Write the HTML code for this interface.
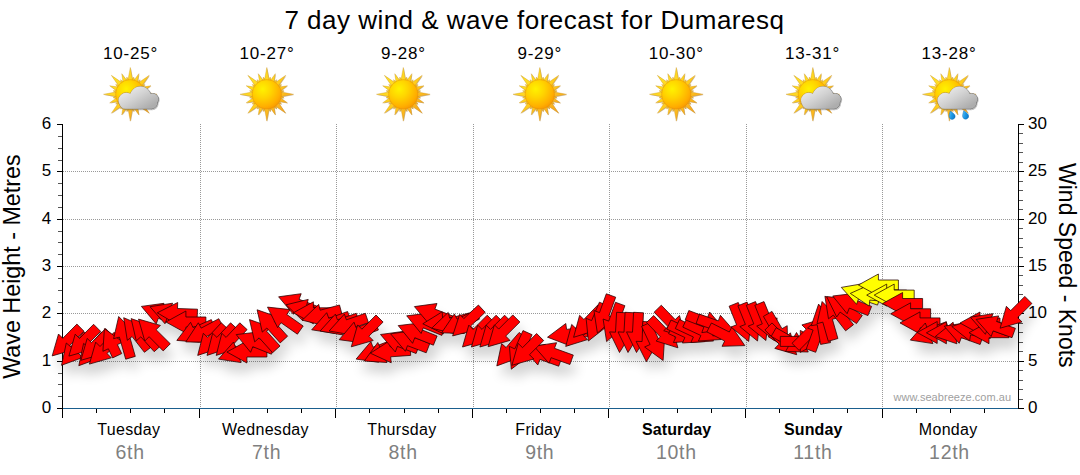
<!DOCTYPE html>
<html><head><meta charset="utf-8"><title>7 day wind &amp; wave forecast for Dumaresq</title>
<style>html,body{margin:0;padding:0;background:#fff;}body{width:1080px;height:475px;overflow:hidden;font-family:"Liberation Sans",sans-serif;}svg{display:block}text{font-family:"Liberation Sans",sans-serif;}</style>
</head><body>
<svg width="1080" height="475" viewBox="0 0 1080 475">
<defs>
<filter id="shb" x="-5%" y="-50%" width="110%" height="200%"><feGaussianBlur stdDeviation="6"/></filter>
<radialGradient id="gSun" cx="0.36" cy="0.32" r="0.75"><stop offset="0" stop-color="#fff200"/><stop offset="0.4" stop-color="#ffd400"/><stop offset="0.8" stop-color="#ffae00"/><stop offset="1" stop-color="#f89600"/></radialGradient>
<linearGradient id="gRay" gradientUnits="userSpaceOnUse" x1="-20" y1="-20" x2="20" y2="20"><stop offset="0" stop-color="#ffe62a"/><stop offset="0.5" stop-color="#ffcc1c"/><stop offset="1" stop-color="#f6a022"/></linearGradient>
<linearGradient id="gCloud" gradientUnits="userSpaceOnUse" x1="0" y1="-8" x2="14" y2="16"><stop offset="0" stop-color="#ebebeb"/><stop offset="0.45" stop-color="#d2d2d2"/><stop offset="1" stop-color="#adadad"/></linearGradient>
<linearGradient id="gCloudEdge" gradientUnits="userSpaceOnUse" x1="-8" y1="-6" x2="22" y2="16"><stop offset="0" stop-color="#c9922a"/><stop offset="0.35" stop-color="#a8905a"/><stop offset="0.6" stop-color="#8a8a8a"/><stop offset="1" stop-color="#6e6e6e"/></linearGradient>
<linearGradient id="gDrop" x1="0" y1="0" x2="1" y2="1"><stop offset="0" stop-color="#7fd0ff"/><stop offset="0.5" stop-color="#1f9be6"/><stop offset="1" stop-color="#0b6fc0"/></linearGradient>
<g id="sunshape"><path d="M13.50,2.50 L26.80,0.00 L13.50,-2.50Z M12.95,4.10 L17.26,3.43 L13.53,1.16Z M11.63,7.20 L20.60,8.53 L13.31,3.13Z M10.39,8.75 L14.63,9.78 L12.06,6.25Z M7.78,11.31 L18.95,18.95 L11.31,7.78Z M6.25,12.06 L9.78,14.63 L8.75,10.39Z M3.13,13.31 L8.53,20.60 L7.20,11.63Z M1.16,13.53 L3.43,17.26 L4.10,12.95Z M-2.50,13.50 L0.00,26.80 L2.50,13.50Z M-4.10,12.95 L-3.43,17.26 L-1.16,13.53Z M-7.20,11.63 L-8.53,20.60 L-3.13,13.31Z M-8.75,10.39 L-9.78,14.63 L-6.25,12.06Z M-11.31,7.78 L-18.95,18.95 L-7.78,11.31Z M-12.06,6.25 L-14.63,9.78 L-10.39,8.75Z M-13.31,3.13 L-20.60,8.53 L-11.63,7.20Z M-13.53,1.16 L-17.26,3.43 L-12.95,4.10Z M-13.50,-2.50 L-26.80,0.00 L-13.50,2.50Z M-12.95,-4.10 L-17.26,-3.43 L-13.53,-1.16Z M-11.63,-7.20 L-20.60,-8.53 L-13.31,-3.13Z M-10.39,-8.75 L-14.63,-9.78 L-12.06,-6.25Z M-7.78,-11.31 L-18.95,-18.95 L-11.31,-7.78Z M-6.25,-12.06 L-9.78,-14.63 L-8.75,-10.39Z M-3.13,-13.31 L-8.53,-20.60 L-7.20,-11.63Z M-1.16,-13.53 L-3.43,-17.26 L-4.10,-12.95Z M2.50,-13.50 L-0.00,-26.80 L-2.50,-13.50Z M4.10,-12.95 L3.43,-17.26 L1.16,-13.53Z M7.20,-11.63 L8.53,-20.60 L3.13,-13.31Z M8.75,-10.39 L9.78,-14.63 L6.25,-12.06Z M11.31,-7.78 L18.95,-18.95 L7.78,-11.31Z M12.06,-6.25 L14.63,-9.78 L10.39,-8.75Z M13.31,-3.13 L20.60,-8.53 L11.63,-7.20Z M13.53,-1.16 L17.26,-3.43 L12.95,-4.10Z" fill="#7a4a00" opacity="0.35" transform="translate(0.6,0.6)"/>
<path d="M13.50,2.50 L26.80,0.00 L13.50,-2.50Z M12.95,4.10 L17.26,3.43 L13.53,1.16Z M11.63,7.20 L20.60,8.53 L13.31,3.13Z M10.39,8.75 L14.63,9.78 L12.06,6.25Z M7.78,11.31 L18.95,18.95 L11.31,7.78Z M6.25,12.06 L9.78,14.63 L8.75,10.39Z M3.13,13.31 L8.53,20.60 L7.20,11.63Z M1.16,13.53 L3.43,17.26 L4.10,12.95Z M-2.50,13.50 L0.00,26.80 L2.50,13.50Z M-4.10,12.95 L-3.43,17.26 L-1.16,13.53Z M-7.20,11.63 L-8.53,20.60 L-3.13,13.31Z M-8.75,10.39 L-9.78,14.63 L-6.25,12.06Z M-11.31,7.78 L-18.95,18.95 L-7.78,11.31Z M-12.06,6.25 L-14.63,9.78 L-10.39,8.75Z M-13.31,3.13 L-20.60,8.53 L-11.63,7.20Z M-13.53,1.16 L-17.26,3.43 L-12.95,4.10Z M-13.50,-2.50 L-26.80,0.00 L-13.50,2.50Z M-12.95,-4.10 L-17.26,-3.43 L-13.53,-1.16Z M-11.63,-7.20 L-20.60,-8.53 L-13.31,-3.13Z M-10.39,-8.75 L-14.63,-9.78 L-12.06,-6.25Z M-7.78,-11.31 L-18.95,-18.95 L-11.31,-7.78Z M-6.25,-12.06 L-9.78,-14.63 L-8.75,-10.39Z M-3.13,-13.31 L-8.53,-20.60 L-7.20,-11.63Z M-1.16,-13.53 L-3.43,-17.26 L-4.10,-12.95Z M2.50,-13.50 L-0.00,-26.80 L-2.50,-13.50Z M4.10,-12.95 L3.43,-17.26 L1.16,-13.53Z M7.20,-11.63 L8.53,-20.60 L3.13,-13.31Z M8.75,-10.39 L9.78,-14.63 L6.25,-12.06Z M11.31,-7.78 L18.95,-18.95 L7.78,-11.31Z M12.06,-6.25 L14.63,-9.78 L10.39,-8.75Z M13.31,-3.13 L20.60,-8.53 L11.63,-7.20Z M13.53,-1.16 L17.26,-3.43 L12.95,-4.10Z" fill="url(#gRay)" stroke="#c8901c" stroke-width="0.5" stroke-opacity="0.7"/>
<circle cx="0" cy="0" r="14.7" fill="url(#gSun)" stroke="#e08a10" stroke-width="0.5" stroke-opacity="0.8"/></g>
<g id="cloudshape"><path d="M-0.60,2.90 a10.7,10.7 0 1,1 21.4,0 a10.7,10.7 0 1,1 -21.4,0Z M-11.80,6.20 a7.8,7.8 0 1,1 15.6,0 a7.8,7.8 0 1,1 -15.6,0Z M-10.90,8.20 a6.3,6.3 0 1,1 12.6,0 a6.3,6.3 0 1,1 -12.6,0Z M16.70,4.90 a5.7,5.7 0 1,1 11.4,0 a5.7,5.7 0 1,1 -11.4,0Z M15.40,8.60 a5.8,5.8 0 1,1 11.6,0 a5.8,5.8 0 1,1 -11.6,0Z M-4.3,3 H21.5 V14.4 H-4.3Z" fill="#555" opacity="0.35" transform="translate(0.7,0.9)" stroke="#555" stroke-width="1.2"/><path d="M-0.60,2.90 a10.7,10.7 0 1,1 21.4,0 a10.7,10.7 0 1,1 -21.4,0Z M-11.80,6.20 a7.8,7.8 0 1,1 15.6,0 a7.8,7.8 0 1,1 -15.6,0Z M-10.90,8.20 a6.3,6.3 0 1,1 12.6,0 a6.3,6.3 0 1,1 -12.6,0Z M16.70,4.90 a5.7,5.7 0 1,1 11.4,0 a5.7,5.7 0 1,1 -11.4,0Z M15.40,8.60 a5.8,5.8 0 1,1 11.6,0 a5.8,5.8 0 1,1 -11.6,0Z M-4.3,3 H21.5 V14.4 H-4.3Z" fill="url(#gCloudEdge)" stroke="url(#gCloudEdge)" stroke-width="1.0" stroke-linejoin="round"/><path d="M-0.60,2.90 a10.7,10.7 0 1,1 21.4,0 a10.7,10.7 0 1,1 -21.4,0Z M-11.80,6.20 a7.8,7.8 0 1,1 15.6,0 a7.8,7.8 0 1,1 -15.6,0Z M-10.90,8.20 a6.3,6.3 0 1,1 12.6,0 a6.3,6.3 0 1,1 -12.6,0Z M16.70,4.90 a5.7,5.7 0 1,1 11.4,0 a5.7,5.7 0 1,1 -11.4,0Z M15.40,8.60 a5.8,5.8 0 1,1 11.6,0 a5.8,5.8 0 1,1 -11.6,0Z M-4.3,3 H21.5 V14.4 H-4.3Z" fill="url(#gCloud)"/></g>
<g id="dropshape"><path d="M0,-4.2 C1.3,-2.2 3,-0.3 3,1.5 A3,3 0 1,1 -3,1.5 C-3,-0.3 -1.3,-2.2 0,-4.2Z" fill="url(#gDrop)" stroke="#0a68b4" stroke-width="0.4" transform="rotate(-20)"/></g>
<symbol id="ic-sun" overflow="visible"><use href="#sunshape"/></symbol>
<symbol id="ic-pc" overflow="visible"><use href="#sunshape"/><use href="#cloudshape"/></symbol>
<symbol id="ic-rain" overflow="visible"><use href="#sunshape"/><use href="#dropshape" x="2.3" y="20.6"/><use href="#dropshape" x="15.8" y="20.4"/><use href="#cloudshape"/></symbol>
</defs>
<text x="534.4" y="29.3" font-size="26" letter-spacing="0.48" text-anchor="middle" fill="#000">7 day wind &amp; wave forecast for Dumaresq</text>
<text x="130.6" y="59" font-size="17" letter-spacing="0.8" text-anchor="middle" fill="#000">10-25°</text>
<text x="267.0" y="59" font-size="17" letter-spacing="0.8" text-anchor="middle" fill="#000">10-27°</text>
<text x="403.4" y="59" font-size="17" letter-spacing="0.8" text-anchor="middle" fill="#000">9-28°</text>
<text x="539.8" y="59" font-size="17" letter-spacing="0.8" text-anchor="middle" fill="#000">9-29°</text>
<text x="676.2" y="59" font-size="17" letter-spacing="0.8" text-anchor="middle" fill="#000">10-30°</text>
<text x="812.6" y="59" font-size="17" letter-spacing="0.8" text-anchor="middle" fill="#000">13-31°</text>
<text x="949.0" y="59" font-size="17" letter-spacing="0.8" text-anchor="middle" fill="#000">13-28°</text>
<line x1="200.5" y1="124" x2="200.5" y2="408" stroke="#999" stroke-width="1" stroke-dasharray="1 1" shape-rendering="crispEdges"/>
<line x1="336.5" y1="124" x2="336.5" y2="408" stroke="#999" stroke-width="1" stroke-dasharray="1 1" shape-rendering="crispEdges"/>
<line x1="473.5" y1="124" x2="473.5" y2="408" stroke="#999" stroke-width="1" stroke-dasharray="1 1" shape-rendering="crispEdges"/>
<line x1="609.5" y1="124" x2="609.5" y2="408" stroke="#999" stroke-width="1" stroke-dasharray="1 1" shape-rendering="crispEdges"/>
<line x1="746.5" y1="124" x2="746.5" y2="408" stroke="#999" stroke-width="1" stroke-dasharray="1 1" shape-rendering="crispEdges"/>
<line x1="882.5" y1="124" x2="882.5" y2="408" stroke="#999" stroke-width="1" stroke-dasharray="1 1" shape-rendering="crispEdges"/>
<line x1="63" y1="361.5" x2="1018" y2="361.5" stroke="#999" stroke-width="1" stroke-dasharray="1 1" shape-rendering="crispEdges"/>
<line x1="63" y1="313.5" x2="1018" y2="313.5" stroke="#999" stroke-width="1" stroke-dasharray="1 1" shape-rendering="crispEdges"/>
<line x1="63" y1="266.5" x2="1018" y2="266.5" stroke="#999" stroke-width="1" stroke-dasharray="1 1" shape-rendering="crispEdges"/>
<line x1="63" y1="219.5" x2="1018" y2="219.5" stroke="#999" stroke-width="1" stroke-dasharray="1 1" shape-rendering="crispEdges"/>
<line x1="63" y1="171.5" x2="1018" y2="171.5" stroke="#999" stroke-width="1" stroke-dasharray="1 1" shape-rendering="crispEdges"/>
<g shape-rendering="crispEdges" stroke="#000" stroke-width="1">
<line x1="62.5" y1="124" x2="62.5" y2="409"/>
<line x1="1018.5" y1="124" x2="1018.5" y2="409"/>
<line x1="1019" y1="408.5" x2="1024" y2="408.5"/>
<line x1="1019" y1="399.5" x2="1023" y2="399.5" stroke="#555"/>
<line x1="1019" y1="389.5" x2="1023" y2="389.5" stroke="#555"/>
<line x1="1019" y1="380.5" x2="1023" y2="380.5" stroke="#555"/>
<line x1="1019" y1="370.5" x2="1023" y2="370.5" stroke="#555"/>
<line x1="1019" y1="361.5" x2="1024" y2="361.5"/>
<line x1="1019" y1="351.5" x2="1023" y2="351.5" stroke="#555"/>
<line x1="1019" y1="342.5" x2="1023" y2="342.5" stroke="#555"/>
<line x1="1019" y1="332.5" x2="1023" y2="332.5" stroke="#555"/>
<line x1="1019" y1="323.5" x2="1023" y2="323.5" stroke="#555"/>
<line x1="1019" y1="313.5" x2="1024" y2="313.5"/>
<line x1="1019" y1="304.5" x2="1023" y2="304.5" stroke="#555"/>
<line x1="1019" y1="294.5" x2="1023" y2="294.5" stroke="#555"/>
<line x1="1019" y1="285.5" x2="1023" y2="285.5" stroke="#555"/>
<line x1="1019" y1="275.5" x2="1023" y2="275.5" stroke="#555"/>
<line x1="1019" y1="266.5" x2="1024" y2="266.5"/>
<line x1="1019" y1="257.5" x2="1023" y2="257.5" stroke="#555"/>
<line x1="1019" y1="247.5" x2="1023" y2="247.5" stroke="#555"/>
<line x1="1019" y1="238.5" x2="1023" y2="238.5" stroke="#555"/>
<line x1="1019" y1="228.5" x2="1023" y2="228.5" stroke="#555"/>
<line x1="1019" y1="219.5" x2="1024" y2="219.5"/>
<line x1="1019" y1="209.5" x2="1023" y2="209.5" stroke="#555"/>
<line x1="1019" y1="200.5" x2="1023" y2="200.5" stroke="#555"/>
<line x1="1019" y1="190.5" x2="1023" y2="190.5" stroke="#555"/>
<line x1="1019" y1="181.5" x2="1023" y2="181.5" stroke="#555"/>
<line x1="1019" y1="171.5" x2="1024" y2="171.5"/>
<line x1="1019" y1="162.5" x2="1023" y2="162.5" stroke="#555"/>
<line x1="1019" y1="152.5" x2="1023" y2="152.5" stroke="#555"/>
<line x1="1019" y1="143.5" x2="1023" y2="143.5" stroke="#555"/>
<line x1="1019" y1="133.5" x2="1023" y2="133.5" stroke="#555"/>
<line x1="1019" y1="124.5" x2="1024" y2="124.5"/>
<line x1="57" y1="408.5" x2="62" y2="408.5"/>
<line x1="58" y1="396.5" x2="62" y2="396.5" stroke="#555"/>
<line x1="58" y1="384.5" x2="62" y2="384.5" stroke="#555"/>
<line x1="58" y1="373.5" x2="62" y2="373.5" stroke="#555"/>
<line x1="57" y1="361.5" x2="62" y2="361.5"/>
<line x1="58" y1="349.5" x2="62" y2="349.5" stroke="#555"/>
<line x1="58" y1="337.5" x2="62" y2="337.5" stroke="#555"/>
<line x1="58" y1="325.5" x2="62" y2="325.5" stroke="#555"/>
<line x1="57" y1="313.5" x2="62" y2="313.5"/>
<line x1="58" y1="302.5" x2="62" y2="302.5" stroke="#555"/>
<line x1="58" y1="290.5" x2="62" y2="290.5" stroke="#555"/>
<line x1="58" y1="278.5" x2="62" y2="278.5" stroke="#555"/>
<line x1="57" y1="266.5" x2="62" y2="266.5"/>
<line x1="58" y1="254.5" x2="62" y2="254.5" stroke="#555"/>
<line x1="58" y1="242.5" x2="62" y2="242.5" stroke="#555"/>
<line x1="58" y1="231.5" x2="62" y2="231.5" stroke="#555"/>
<line x1="57" y1="219.5" x2="62" y2="219.5"/>
<line x1="58" y1="207.5" x2="62" y2="207.5" stroke="#555"/>
<line x1="58" y1="195.5" x2="62" y2="195.5" stroke="#555"/>
<line x1="58" y1="183.5" x2="62" y2="183.5" stroke="#555"/>
<line x1="57" y1="171.5" x2="62" y2="171.5"/>
<line x1="58" y1="160.5" x2="62" y2="160.5" stroke="#555"/>
<line x1="58" y1="148.5" x2="62" y2="148.5" stroke="#555"/>
<line x1="58" y1="136.5" x2="62" y2="136.5" stroke="#555"/>
<line x1="57" y1="124.5" x2="62" y2="124.5"/>
<line x1="62.5" y1="409" x2="62.5" y2="418"/>
<line x1="96.5" y1="409" x2="96.5" y2="413"/>
<line x1="130.5" y1="409" x2="130.5" y2="413"/>
<line x1="164.5" y1="409" x2="164.5" y2="413"/>
<line x1="199.5" y1="409" x2="199.5" y2="418"/>
<line x1="233.5" y1="409" x2="233.5" y2="413"/>
<line x1="267.5" y1="409" x2="267.5" y2="413"/>
<line x1="301.5" y1="409" x2="301.5" y2="413"/>
<line x1="335.5" y1="409" x2="335.5" y2="418"/>
<line x1="369.5" y1="409" x2="369.5" y2="413"/>
<line x1="404.5" y1="409" x2="404.5" y2="413"/>
<line x1="438.5" y1="409" x2="438.5" y2="413"/>
<line x1="472.5" y1="409" x2="472.5" y2="418"/>
<line x1="506.5" y1="409" x2="506.5" y2="413"/>
<line x1="540.5" y1="409" x2="540.5" y2="413"/>
<line x1="574.5" y1="409" x2="574.5" y2="413"/>
<line x1="608.5" y1="409" x2="608.5" y2="418"/>
<line x1="643.5" y1="409" x2="643.5" y2="413"/>
<line x1="677.5" y1="409" x2="677.5" y2="413"/>
<line x1="711.5" y1="409" x2="711.5" y2="413"/>
<line x1="745.5" y1="409" x2="745.5" y2="418"/>
<line x1="779.5" y1="409" x2="779.5" y2="413"/>
<line x1="813.5" y1="409" x2="813.5" y2="413"/>
<line x1="847.5" y1="409" x2="847.5" y2="413"/>
<line x1="882.5" y1="409" x2="882.5" y2="418"/>
<line x1="916.5" y1="409" x2="916.5" y2="413"/>
<line x1="950.5" y1="409" x2="950.5" y2="413"/>
<line x1="984.5" y1="409" x2="984.5" y2="413"/>
</g>
<line x1="63" y1="408.5" x2="1018" y2="408.5" stroke="#1a5f8e" stroke-width="1" shape-rendering="crispEdges"/>
<text x="51.3" y="412.9" font-size="17" text-anchor="end" fill="#000">0</text>
<text x="1028" y="412.9" font-size="17" text-anchor="start" fill="#000">0</text>
<text x="51.3" y="365.6" font-size="17" text-anchor="end" fill="#000">1</text>
<text x="1028" y="365.6" font-size="17" text-anchor="start" fill="#000">5</text>
<text x="51.3" y="318.2" font-size="17" text-anchor="end" fill="#000">2</text>
<text x="1028" y="318.2" font-size="17" text-anchor="start" fill="#000">10</text>
<text x="51.3" y="270.9" font-size="17" text-anchor="end" fill="#000">3</text>
<text x="1028" y="270.9" font-size="17" text-anchor="start" fill="#000">15</text>
<text x="51.3" y="223.6" font-size="17" text-anchor="end" fill="#000">4</text>
<text x="1028" y="223.6" font-size="17" text-anchor="start" fill="#000">20</text>
<text x="51.3" y="176.2" font-size="17" text-anchor="end" fill="#000">5</text>
<text x="1028" y="176.2" font-size="17" text-anchor="start" fill="#000">25</text>
<text x="51.3" y="128.9" font-size="17" text-anchor="end" fill="#000">6</text>
<text x="1028" y="128.9" font-size="17" text-anchor="start" fill="#000">30</text>
<path d="M52.2,355.9 L74.1,349.6 L69.8,345.3 L84.0,331.2 L76.9,324.1 L62.8,338.3 L58.5,334.0Z M61.5,365.3 L82.9,357.4 L78.4,353.5 L91.5,338.4 L83.9,331.8 L70.8,346.9 L66.3,343.0Z M68.9,356.1 L90.8,349.8 L86.5,345.5 L100.7,331.4 L93.6,324.3 L79.5,338.5 L75.2,334.2Z M78.8,365.7 L100.2,357.8 L95.7,353.9 L108.8,338.8 L101.2,332.2 L88.1,347.3 L83.6,343.4Z M80.9,360.3 L102.8,354.0 L98.5,349.7 L112.7,335.6 L105.6,328.5 L91.5,342.7 L87.2,338.4Z M89.4,364.1 L111.3,357.8 L107.0,353.5 L121.2,339.4 L114.1,332.3 L100.0,346.5 L95.7,342.2Z M104.4,328.6 L102.9,351.3 L108.4,348.8 L112.6,357.9 L121.7,353.6 L117.4,344.6 L122.9,342.1Z M118.7,316.5 L113.6,338.7 L119.4,337.1 L125.7,359.2 L135.3,356.4 L129.0,334.3 L134.8,332.7Z M123.7,317.7 L127.3,340.3 L132.1,336.6 L144.4,352.3 L152.3,346.2 L139.9,330.4 L144.7,326.7Z M131.1,318.6 L136.3,340.9 L140.8,336.8 L154.2,351.7 L161.6,345.0 L148.2,330.2 L152.7,326.1Z M138.5,319.1 L144.8,341.0 L149.1,336.7 L163.2,350.9 L170.3,343.8 L156.1,329.7 L160.4,325.4Z M141.4,306.4 L156.2,323.9 L158.3,318.3 L177.0,325.4 L180.6,316.1 L161.9,308.9 L164.0,303.3Z M150.0,306.7 L165.0,323.8 L167.1,318.2 L185.9,325.0 L189.3,315.6 L170.5,308.8 L172.6,303.2Z M157.3,312.8 L176.9,324.5 L177.1,318.5 L197.1,319.2 L197.5,309.2 L177.5,308.5 L177.7,302.5Z M165.9,322.0 L185.9,333.0 L185.9,327.0 L205.9,327.0 L205.9,317.0 L185.9,317.0 L185.9,311.0Z M176.8,340.4 L199.6,342.3 L197.1,336.9 L215.4,328.7 L211.3,319.6 L193.1,327.7 L190.6,322.3Z M185.8,341.9 L208.7,342.2 L205.8,336.9 L223.5,327.5 L218.8,318.7 L201.2,328.1 L198.3,322.8Z M197.7,355.4 L219.3,348.3 L215.0,344.2 L228.6,329.6 L221.3,322.8 L207.6,337.4 L203.3,333.3Z M207.0,355.4 L228.6,348.3 L224.3,344.2 L237.9,329.6 L230.6,322.8 L216.9,337.4 L212.6,333.3Z M216.2,355.4 L237.8,348.3 L233.5,344.2 L247.1,329.6 L239.8,322.8 L226.1,337.4 L221.8,333.3Z M218.5,359.1 L241.1,362.6 L239.0,357.0 L257.8,350.2 L254.4,340.8 L235.6,347.6 L233.5,342.0Z M226.9,352.0 L246.9,363.0 L246.9,357.0 L266.9,357.0 L266.9,347.0 L246.9,347.0 L246.9,341.0Z M236.2,334.6 L250.6,352.3 L252.8,346.7 L271.4,354.2 L275.1,345.0 L256.6,337.5 L258.8,331.9Z M249.5,319.6 L254.7,341.9 L259.2,337.8 L272.6,352.7 L280.0,346.0 L266.6,331.2 L271.1,327.1Z M257.1,309.8 L262.3,332.1 L266.8,328.0 L280.2,342.9 L287.6,336.2 L274.2,321.4 L278.7,317.3Z M267.5,307.1 L277.6,327.6 L281.0,322.7 L297.4,334.2 L303.2,326.0 L286.8,314.5 L290.2,309.6Z M278.6,296.8 L293.4,314.3 L295.5,308.7 L314.2,315.8 L317.8,306.5 L299.1,299.3 L301.2,293.7Z M286.1,304.8 L302.6,320.6 L304.1,314.8 L323.4,320.0 L326.0,310.3 L306.7,305.2 L308.2,299.4Z M293.4,312.8 L313.4,323.8 L313.4,317.8 L333.4,317.8 L333.4,307.8 L313.4,307.8 L313.4,301.8Z M302.2,320.2 L324.3,325.6 L322.8,319.8 L342.1,314.7 L339.5,305.0 L320.2,310.2 L318.7,304.4Z M311.7,329.8 L334.3,333.3 L332.2,327.7 L351.0,320.9 L347.6,311.5 L328.8,318.3 L326.7,312.7Z M320.1,331.0 L342.6,334.9 L340.6,329.2 L359.5,322.7 L356.3,313.3 L337.4,319.8 L335.4,314.1Z M329.1,331.0 L351.6,334.9 L349.6,329.2 L368.5,322.7 L365.3,313.3 L346.4,319.8 L344.4,314.1Z M339.2,339.7 L361.8,342.8 L359.7,337.2 L378.4,330.0 L374.8,320.7 L356.1,327.8 L354.0,322.2Z M351.3,346.8 L373.2,340.5 L368.9,336.2 L383.1,322.1 L376.0,315.0 L361.9,329.2 L357.6,324.9Z M356.1,359.1 L378.7,362.2 L376.6,356.6 L395.3,349.4 L391.7,340.1 L373.0,347.2 L370.9,341.6Z M364.3,361.0 L387.0,362.5 L384.5,357.0 L402.6,348.6 L398.4,339.5 L380.3,348.0 L377.8,342.5Z M370.4,353.2 L391.2,362.8 L390.7,356.8 L410.7,355.4 L410.0,345.4 L390.1,346.8 L389.6,340.8Z M380.5,334.5 L395.3,352.0 L397.4,346.4 L416.1,353.5 L419.7,344.2 L401.0,337.0 L403.1,331.4Z M390.6,333.8 L405.4,351.3 L407.5,345.7 L426.2,352.8 L429.8,343.5 L411.1,336.3 L413.2,330.7Z M398.2,325.6 L412.6,343.3 L414.8,337.7 L433.4,345.2 L437.1,336.0 L418.6,328.5 L420.8,322.9Z M406.7,315.8 L421.1,333.5 L423.3,327.9 L441.9,335.4 L445.6,326.2 L427.1,318.7 L429.3,313.1Z M414.4,306.6 L429.2,324.1 L431.3,318.5 L450.0,325.6 L453.6,316.3 L434.9,309.1 L437.0,303.5Z M422.8,323.8 L443.4,333.8 L443.1,327.8 L463.0,326.7 L462.5,316.8 L442.5,317.8 L442.2,311.8Z M431.7,328.2 L453.8,333.6 L452.3,327.8 L471.6,322.7 L469.0,313.0 L449.7,318.2 L448.2,312.4Z M441.6,332.8 L464.4,333.5 L461.7,328.2 L479.5,319.1 L475.0,310.2 L457.1,319.2 L454.4,313.9Z M452.6,335.9 L474.7,330.3 L470.6,326.0 L485.2,312.3 L478.4,305.0 L463.8,318.6 L459.7,314.3Z M462.5,347.0 L484.4,340.7 L480.1,336.4 L494.3,322.3 L487.2,315.2 L473.1,329.4 L468.8,325.1Z M471.4,347.0 L493.3,340.7 L489.0,336.4 L503.2,322.3 L496.1,315.2 L482.0,329.4 L477.7,325.1Z M479.9,347.0 L501.8,340.7 L497.5,336.4 L511.7,322.3 L504.6,315.2 L490.5,329.4 L486.2,325.1Z M488.1,346.7 L510.0,340.4 L505.7,336.1 L519.9,322.0 L512.8,314.9 L498.7,329.1 L494.4,324.8Z M522.8,347.9 L537.8,365.0 L539.9,359.4 L558.7,366.2 L562.1,356.8 L543.3,350.0 L545.4,344.4Z M534.0,346.2 L549.0,363.3 L551.1,357.7 L569.9,364.5 L573.3,355.1 L554.5,348.3 L556.6,342.7Z M496.8,365.9 L518.2,358.0 L513.7,354.1 L526.8,339.0 L519.2,332.4 L506.1,347.5 L501.6,343.6Z M511.3,369.2 L529.4,355.4 L524.0,352.9 L532.1,334.7 L523.0,330.6 L514.8,348.9 L509.4,346.4Z M511.9,365.3 L533.8,359.0 L529.5,354.7 L543.7,340.6 L536.6,333.5 L522.5,347.7 L518.2,343.4Z M547.5,337.2 L568.8,345.3 L568.0,339.4 L587.8,336.6 L586.4,326.7 L566.6,329.4 L565.8,323.5Z M565.7,346.4 L587.5,339.6 L583.2,335.5 L597.1,321.1 L589.9,314.1 L576.0,328.5 L571.7,324.4Z M573.6,337.3 L595.4,330.5 L591.1,326.4 L605.0,312.0 L597.8,305.0 L583.9,319.4 L579.6,315.3Z M588.4,341.0 L606.3,326.9 L600.8,324.6 L608.6,306.1 L599.4,302.2 L591.6,320.6 L586.1,318.3Z M597.4,333.1 L614.5,318.1 L608.9,316.0 L615.7,297.2 L606.3,293.8 L599.5,312.6 L593.9,310.5Z M606.6,341.6 L623.7,326.6 L618.1,324.5 L624.9,305.7 L615.5,302.3 L608.7,321.1 L603.1,319.0Z M619.5,352.5 L631.5,333.1 L625.5,332.8 L626.5,312.8 L616.6,312.3 L615.5,332.2 L609.5,331.9Z M628.0,352.5 L640.0,333.1 L634.0,332.8 L635.0,312.8 L625.1,312.3 L624.0,332.2 L618.0,331.9Z M636.5,352.5 L648.5,333.1 L642.5,332.8 L643.5,312.8 L633.6,312.3 L632.5,332.2 L626.5,331.9Z M646.4,361.7 L658.1,342.1 L652.1,341.9 L652.8,321.9 L642.8,321.5 L642.1,341.5 L636.1,341.3Z M663.1,360.5 L664.6,337.8 L659.1,340.3 L650.7,322.2 L641.6,326.4 L650.1,344.5 L644.6,347.0Z M677.9,347.8 L671.9,325.8 L667.6,329.9 L653.7,315.5 L646.5,322.5 L660.4,336.9 L656.1,341.0Z M685.5,337.5 L679.5,315.5 L675.2,319.6 L661.3,305.2 L654.1,312.2 L668.0,326.6 L663.7,330.7Z M696.1,341.0 L682.6,322.5 L680.1,328.0 L672.9,324.6 L668.6,333.7 L675.9,337.0 L673.4,342.5Z M705.1,341.5 L691.6,323.0 L689.1,328.5 L671.0,320.0 L666.8,329.1 L684.9,337.5 L682.4,343.0Z M713.6,341.0 L700.1,322.5 L697.6,328.0 L679.5,319.5 L675.3,328.6 L693.4,337.0 L690.9,342.5Z M721.1,339.5 L707.6,321.0 L705.1,326.5 L687.0,318.0 L682.8,327.1 L700.9,335.5 L698.4,341.0Z M724.4,329.5 L709.6,312.0 L707.5,317.6 L688.8,310.5 L685.2,319.8 L703.9,327.0 L701.8,332.6Z M735.4,332.4 L720.4,315.3 L718.3,320.9 L699.5,314.1 L696.1,323.5 L714.9,330.3 L712.8,335.9Z M744.8,345.6 L732.0,326.7 L729.3,332.0 L711.4,323.0 L706.9,331.9 L724.7,341.0 L722.0,346.3Z M748.7,341.4 L751.4,318.8 L745.8,321.0 L738.3,302.5 L729.1,306.2 L736.6,324.8 L731.0,327.0Z M757.5,341.0 L760.2,318.4 L754.6,320.6 L747.1,302.1 L737.9,305.8 L745.4,324.4 L739.8,326.6Z M765.9,340.5 L768.6,317.9 L763.0,320.1 L755.5,301.6 L746.3,305.3 L753.8,323.9 L748.2,326.1Z M774.4,340.5 L777.1,317.9 L771.5,320.1 L764.0,301.6 L754.8,305.3 L762.3,323.9 L756.7,326.1Z M787.7,348.5 L787.2,325.7 L782.0,328.7 L772.0,311.4 L763.4,316.4 L773.4,333.7 L768.2,336.7Z M796.7,354.7 L790.4,332.8 L786.1,337.1 L772.0,322.9 L764.9,330.0 L779.1,344.1 L774.8,348.4Z M808.3,352.0 L796.5,332.5 L793.5,337.7 L776.2,327.7 L771.2,336.3 L788.5,346.3 L785.5,351.5Z M820.3,341.4 L800.3,330.4 L800.3,336.4 L780.3,336.4 L780.3,346.4 L800.3,346.4 L800.3,352.4Z M823.8,318.6 L801.9,324.9 L806.2,329.2 L792.0,343.3 L799.1,350.4 L813.2,336.2 L817.5,340.5Z M824.6,313.0 L807.5,328.0 L813.1,330.1 L806.3,348.9 L815.7,352.3 L822.5,333.5 L828.1,335.6Z M818.6,304.1 L811.3,325.7 L817.2,324.7 L820.6,344.4 L830.5,342.6 L827.0,322.9 L832.9,321.9Z M822.1,301.5 L817.0,323.7 L822.8,322.1 L828.3,341.3 L837.9,338.5 L832.4,319.3 L838.2,317.7Z M824.9,296.2 L828.5,318.8 L833.3,315.1 L845.6,330.8 L853.5,324.7 L841.1,308.9 L845.9,305.2Z M826.6,296.5 L836.7,317.0 L840.1,312.1 L856.5,323.6 L862.3,315.4 L845.9,303.9 L849.3,299.0Z M832.7,296.0 L847.1,313.7 L849.3,308.1 L867.9,315.6 L871.6,306.4 L853.1,298.9 L855.3,293.3Z M841.3,287.4 L856.6,304.3 L858.6,298.6 L877.5,305.1 L880.7,295.7 L861.8,289.2 L863.8,283.5Z M850.3,293.4 L869.2,306.1 L869.8,300.1 L889.7,301.8 L890.6,291.9 L870.6,290.1 L871.2,284.1Z M858.4,285.0 L878.4,296.0 L878.4,290.0 L898.4,290.0 L898.4,280.0 L878.4,280.0 L878.4,274.0Z M866.7,295.1 L886.7,306.1 L886.7,300.1 L906.7,300.1 L906.7,290.1 L886.7,290.1 L886.7,284.1Z M874.2,295.1 L894.2,306.1 L894.2,300.1 L914.2,300.1 L914.2,290.1 L894.2,290.1 L894.2,284.1Z M882.6,303.5 L902.6,314.5 L902.6,308.5 L922.6,308.5 L922.6,298.5 L902.6,298.5 L902.6,292.5Z M890.6,313.8 L910.6,324.8 L910.6,318.8 L930.6,318.8 L930.6,308.8 L910.6,308.8 L910.6,302.8Z M900.0,322.9 L920.0,333.9 L920.0,327.9 L940.0,327.9 L940.0,317.9 L920.0,317.9 L920.0,311.9Z M910.3,340.1 L932.9,343.6 L930.8,338.0 L949.6,331.2 L946.2,321.8 L927.4,328.6 L925.3,323.0Z M917.2,332.5 L937.2,343.5 L937.2,337.5 L957.2,337.5 L957.2,327.5 L937.2,327.5 L937.2,321.5Z M926.4,332.8 L946.4,343.8 L946.4,337.8 L966.4,337.8 L966.4,327.8 L946.4,327.8 L946.4,321.8Z M935.3,336.5 L956.9,343.8 L955.9,337.9 L975.6,334.5 L973.8,324.6 L954.1,328.1 L953.1,322.2Z M944.2,326.2 L959.2,343.3 L961.3,337.7 L980.1,344.5 L983.5,335.1 L964.7,328.3 L966.8,322.7Z M951.8,326.5 L969.6,340.8 L970.6,334.9 L990.3,338.4 L992.1,328.5 L972.4,325.1 L973.4,319.2Z M960.0,323.0 L980.0,334.0 L980.0,328.0 L1000.0,328.0 L1000.0,318.0 L980.0,318.0 L980.0,312.0Z M969.0,332.7 L989.0,343.7 L989.0,337.7 L1009.0,337.7 L1009.0,327.7 L989.0,327.7 L989.0,321.7Z M970.4,317.2 L985.4,334.3 L987.5,328.7 L1006.3,335.5 L1009.7,326.1 L990.9,319.3 L993.0,313.7Z M976.1,319.4 L991.1,336.5 L993.2,330.9 L1012.0,337.7 L1015.4,328.3 L996.6,321.5 L998.7,315.9Z M1000.1,328.2 L1022.0,321.9 L1017.7,317.6 L1031.9,303.5 L1024.8,296.4 L1010.7,310.6 L1006.4,306.3Z" fill="#000" opacity="0.17" filter="url(#shb)" transform="translate(4,11)"/>
<g stroke="#200" stroke-width="0.75" stroke-linejoin="miter">
<path d="M52.2,355.9 L74.1,349.6 L69.8,345.3 L84.0,331.2 L76.9,324.1 L62.8,338.3 L58.5,334.0Z" fill="#ff0000"/>
<path d="M61.5,365.3 L82.9,357.4 L78.4,353.5 L91.5,338.4 L83.9,331.8 L70.8,346.9 L66.3,343.0Z" fill="#ff0000"/>
<path d="M68.9,356.1 L90.8,349.8 L86.5,345.5 L100.7,331.4 L93.6,324.3 L79.5,338.5 L75.2,334.2Z" fill="#ff0000"/>
<path d="M78.8,365.7 L100.2,357.8 L95.7,353.9 L108.8,338.8 L101.2,332.2 L88.1,347.3 L83.6,343.4Z" fill="#ff0000"/>
<path d="M80.9,360.3 L102.8,354.0 L98.5,349.7 L112.7,335.6 L105.6,328.5 L91.5,342.7 L87.2,338.4Z" fill="#ff0000"/>
<path d="M89.4,364.1 L111.3,357.8 L107.0,353.5 L121.2,339.4 L114.1,332.3 L100.0,346.5 L95.7,342.2Z" fill="#ff0000"/>
<path d="M104.4,328.6 L102.9,351.3 L108.4,348.8 L112.6,357.9 L121.7,353.6 L117.4,344.6 L122.9,342.1Z" fill="#ff0000"/>
<path d="M118.7,316.5 L113.6,338.7 L119.4,337.1 L125.7,359.2 L135.3,356.4 L129.0,334.3 L134.8,332.7Z" fill="#ff0000"/>
<path d="M123.7,317.7 L127.3,340.3 L132.1,336.6 L144.4,352.3 L152.3,346.2 L139.9,330.4 L144.7,326.7Z" fill="#ff0000"/>
<path d="M131.1,318.6 L136.3,340.9 L140.8,336.8 L154.2,351.7 L161.6,345.0 L148.2,330.2 L152.7,326.1Z" fill="#ff0000"/>
<path d="M138.5,319.1 L144.8,341.0 L149.1,336.7 L163.2,350.9 L170.3,343.8 L156.1,329.7 L160.4,325.4Z" fill="#ff0000"/>
<path d="M141.4,306.4 L156.2,323.9 L158.3,318.3 L177.0,325.4 L180.6,316.1 L161.9,308.9 L164.0,303.3Z" fill="#ff0000"/>
<path d="M150.0,306.7 L165.0,323.8 L167.1,318.2 L185.9,325.0 L189.3,315.6 L170.5,308.8 L172.6,303.2Z" fill="#ff0000"/>
<path d="M157.3,312.8 L176.9,324.5 L177.1,318.5 L197.1,319.2 L197.5,309.2 L177.5,308.5 L177.7,302.5Z" fill="#ff0000"/>
<path d="M165.9,322.0 L185.9,333.0 L185.9,327.0 L205.9,327.0 L205.9,317.0 L185.9,317.0 L185.9,311.0Z" fill="#ff0000"/>
<path d="M176.8,340.4 L199.6,342.3 L197.1,336.9 L215.4,328.7 L211.3,319.6 L193.1,327.7 L190.6,322.3Z" fill="#ff0000"/>
<path d="M185.8,341.9 L208.7,342.2 L205.8,336.9 L223.5,327.5 L218.8,318.7 L201.2,328.1 L198.3,322.8Z" fill="#ff0000"/>
<path d="M197.7,355.4 L219.3,348.3 L215.0,344.2 L228.6,329.6 L221.3,322.8 L207.6,337.4 L203.3,333.3Z" fill="#ff0000"/>
<path d="M207.0,355.4 L228.6,348.3 L224.3,344.2 L237.9,329.6 L230.6,322.8 L216.9,337.4 L212.6,333.3Z" fill="#ff0000"/>
<path d="M216.2,355.4 L237.8,348.3 L233.5,344.2 L247.1,329.6 L239.8,322.8 L226.1,337.4 L221.8,333.3Z" fill="#ff0000"/>
<path d="M218.5,359.1 L241.1,362.6 L239.0,357.0 L257.8,350.2 L254.4,340.8 L235.6,347.6 L233.5,342.0Z" fill="#ff0000"/>
<path d="M226.9,352.0 L246.9,363.0 L246.9,357.0 L266.9,357.0 L266.9,347.0 L246.9,347.0 L246.9,341.0Z" fill="#ff0000"/>
<path d="M236.2,334.6 L250.6,352.3 L252.8,346.7 L271.4,354.2 L275.1,345.0 L256.6,337.5 L258.8,331.9Z" fill="#ff0000"/>
<path d="M249.5,319.6 L254.7,341.9 L259.2,337.8 L272.6,352.7 L280.0,346.0 L266.6,331.2 L271.1,327.1Z" fill="#ff0000"/>
<path d="M257.1,309.8 L262.3,332.1 L266.8,328.0 L280.2,342.9 L287.6,336.2 L274.2,321.4 L278.7,317.3Z" fill="#ff0000"/>
<path d="M267.5,307.1 L277.6,327.6 L281.0,322.7 L297.4,334.2 L303.2,326.0 L286.8,314.5 L290.2,309.6Z" fill="#ff0000"/>
<path d="M278.6,296.8 L293.4,314.3 L295.5,308.7 L314.2,315.8 L317.8,306.5 L299.1,299.3 L301.2,293.7Z" fill="#ff0000"/>
<path d="M286.1,304.8 L302.6,320.6 L304.1,314.8 L323.4,320.0 L326.0,310.3 L306.7,305.2 L308.2,299.4Z" fill="#ff0000"/>
<path d="M293.4,312.8 L313.4,323.8 L313.4,317.8 L333.4,317.8 L333.4,307.8 L313.4,307.8 L313.4,301.8Z" fill="#ff0000"/>
<path d="M302.2,320.2 L324.3,325.6 L322.8,319.8 L342.1,314.7 L339.5,305.0 L320.2,310.2 L318.7,304.4Z" fill="#ff0000"/>
<path d="M311.7,329.8 L334.3,333.3 L332.2,327.7 L351.0,320.9 L347.6,311.5 L328.8,318.3 L326.7,312.7Z" fill="#ff0000"/>
<path d="M320.1,331.0 L342.6,334.9 L340.6,329.2 L359.5,322.7 L356.3,313.3 L337.4,319.8 L335.4,314.1Z" fill="#ff0000"/>
<path d="M329.1,331.0 L351.6,334.9 L349.6,329.2 L368.5,322.7 L365.3,313.3 L346.4,319.8 L344.4,314.1Z" fill="#ff0000"/>
<path d="M339.2,339.7 L361.8,342.8 L359.7,337.2 L378.4,330.0 L374.8,320.7 L356.1,327.8 L354.0,322.2Z" fill="#ff0000"/>
<path d="M351.3,346.8 L373.2,340.5 L368.9,336.2 L383.1,322.1 L376.0,315.0 L361.9,329.2 L357.6,324.9Z" fill="#ff0000"/>
<path d="M356.1,359.1 L378.7,362.2 L376.6,356.6 L395.3,349.4 L391.7,340.1 L373.0,347.2 L370.9,341.6Z" fill="#ff0000"/>
<path d="M364.3,361.0 L387.0,362.5 L384.5,357.0 L402.6,348.6 L398.4,339.5 L380.3,348.0 L377.8,342.5Z" fill="#ff0000"/>
<path d="M370.4,353.2 L391.2,362.8 L390.7,356.8 L410.7,355.4 L410.0,345.4 L390.1,346.8 L389.6,340.8Z" fill="#ff0000"/>
<path d="M380.5,334.5 L395.3,352.0 L397.4,346.4 L416.1,353.5 L419.7,344.2 L401.0,337.0 L403.1,331.4Z" fill="#ff0000"/>
<path d="M390.6,333.8 L405.4,351.3 L407.5,345.7 L426.2,352.8 L429.8,343.5 L411.1,336.3 L413.2,330.7Z" fill="#ff0000"/>
<path d="M398.2,325.6 L412.6,343.3 L414.8,337.7 L433.4,345.2 L437.1,336.0 L418.6,328.5 L420.8,322.9Z" fill="#ff0000"/>
<path d="M406.7,315.8 L421.1,333.5 L423.3,327.9 L441.9,335.4 L445.6,326.2 L427.1,318.7 L429.3,313.1Z" fill="#ff0000"/>
<path d="M414.4,306.6 L429.2,324.1 L431.3,318.5 L450.0,325.6 L453.6,316.3 L434.9,309.1 L437.0,303.5Z" fill="#ff0000"/>
<path d="M422.8,323.8 L443.4,333.8 L443.1,327.8 L463.0,326.7 L462.5,316.8 L442.5,317.8 L442.2,311.8Z" fill="#ff0000"/>
<path d="M431.7,328.2 L453.8,333.6 L452.3,327.8 L471.6,322.7 L469.0,313.0 L449.7,318.2 L448.2,312.4Z" fill="#ff0000"/>
<path d="M441.6,332.8 L464.4,333.5 L461.7,328.2 L479.5,319.1 L475.0,310.2 L457.1,319.2 L454.4,313.9Z" fill="#ff0000"/>
<path d="M452.6,335.9 L474.7,330.3 L470.6,326.0 L485.2,312.3 L478.4,305.0 L463.8,318.6 L459.7,314.3Z" fill="#ff0000"/>
<path d="M462.5,347.0 L484.4,340.7 L480.1,336.4 L494.3,322.3 L487.2,315.2 L473.1,329.4 L468.8,325.1Z" fill="#ff0000"/>
<path d="M471.4,347.0 L493.3,340.7 L489.0,336.4 L503.2,322.3 L496.1,315.2 L482.0,329.4 L477.7,325.1Z" fill="#ff0000"/>
<path d="M479.9,347.0 L501.8,340.7 L497.5,336.4 L511.7,322.3 L504.6,315.2 L490.5,329.4 L486.2,325.1Z" fill="#ff0000"/>
<path d="M488.1,346.7 L510.0,340.4 L505.7,336.1 L519.9,322.0 L512.8,314.9 L498.7,329.1 L494.4,324.8Z" fill="#ff0000"/>
<path d="M522.8,347.9 L537.8,365.0 L539.9,359.4 L558.7,366.2 L562.1,356.8 L543.3,350.0 L545.4,344.4Z" fill="#ff0000"/>
<path d="M534.0,346.2 L549.0,363.3 L551.1,357.7 L569.9,364.5 L573.3,355.1 L554.5,348.3 L556.6,342.7Z" fill="#ff0000"/>
<path d="M496.8,365.9 L518.2,358.0 L513.7,354.1 L526.8,339.0 L519.2,332.4 L506.1,347.5 L501.6,343.6Z" fill="#ff0000"/>
<path d="M511.3,369.2 L529.4,355.4 L524.0,352.9 L532.1,334.7 L523.0,330.6 L514.8,348.9 L509.4,346.4Z" fill="#ff0000"/>
<path d="M511.9,365.3 L533.8,359.0 L529.5,354.7 L543.7,340.6 L536.6,333.5 L522.5,347.7 L518.2,343.4Z" fill="#ff0000"/>
<path d="M547.5,337.2 L568.8,345.3 L568.0,339.4 L587.8,336.6 L586.4,326.7 L566.6,329.4 L565.8,323.5Z" fill="#ff0000"/>
<path d="M565.7,346.4 L587.5,339.6 L583.2,335.5 L597.1,321.1 L589.9,314.1 L576.0,328.5 L571.7,324.4Z" fill="#ff0000"/>
<path d="M573.6,337.3 L595.4,330.5 L591.1,326.4 L605.0,312.0 L597.8,305.0 L583.9,319.4 L579.6,315.3Z" fill="#ff0000"/>
<path d="M588.4,341.0 L606.3,326.9 L600.8,324.6 L608.6,306.1 L599.4,302.2 L591.6,320.6 L586.1,318.3Z" fill="#ff0000"/>
<path d="M597.4,333.1 L614.5,318.1 L608.9,316.0 L615.7,297.2 L606.3,293.8 L599.5,312.6 L593.9,310.5Z" fill="#ff0000"/>
<path d="M606.6,341.6 L623.7,326.6 L618.1,324.5 L624.9,305.7 L615.5,302.3 L608.7,321.1 L603.1,319.0Z" fill="#ff0000"/>
<path d="M619.5,352.5 L631.5,333.1 L625.5,332.8 L626.5,312.8 L616.6,312.3 L615.5,332.2 L609.5,331.9Z" fill="#ff0000"/>
<path d="M628.0,352.5 L640.0,333.1 L634.0,332.8 L635.0,312.8 L625.1,312.3 L624.0,332.2 L618.0,331.9Z" fill="#ff0000"/>
<path d="M636.5,352.5 L648.5,333.1 L642.5,332.8 L643.5,312.8 L633.6,312.3 L632.5,332.2 L626.5,331.9Z" fill="#ff0000"/>
<path d="M646.4,361.7 L658.1,342.1 L652.1,341.9 L652.8,321.9 L642.8,321.5 L642.1,341.5 L636.1,341.3Z" fill="#ff0000"/>
<path d="M663.1,360.5 L664.6,337.8 L659.1,340.3 L650.7,322.2 L641.6,326.4 L650.1,344.5 L644.6,347.0Z" fill="#ff0000"/>
<path d="M677.9,347.8 L671.9,325.8 L667.6,329.9 L653.7,315.5 L646.5,322.5 L660.4,336.9 L656.1,341.0Z" fill="#ff0000"/>
<path d="M685.5,337.5 L679.5,315.5 L675.2,319.6 L661.3,305.2 L654.1,312.2 L668.0,326.6 L663.7,330.7Z" fill="#ff0000"/>
<path d="M696.1,341.0 L682.6,322.5 L680.1,328.0 L672.9,324.6 L668.6,333.7 L675.9,337.0 L673.4,342.5Z" fill="#ff0000"/>
<path d="M705.1,341.5 L691.6,323.0 L689.1,328.5 L671.0,320.0 L666.8,329.1 L684.9,337.5 L682.4,343.0Z" fill="#ff0000"/>
<path d="M713.6,341.0 L700.1,322.5 L697.6,328.0 L679.5,319.5 L675.3,328.6 L693.4,337.0 L690.9,342.5Z" fill="#ff0000"/>
<path d="M721.1,339.5 L707.6,321.0 L705.1,326.5 L687.0,318.0 L682.8,327.1 L700.9,335.5 L698.4,341.0Z" fill="#ff0000"/>
<path d="M724.4,329.5 L709.6,312.0 L707.5,317.6 L688.8,310.5 L685.2,319.8 L703.9,327.0 L701.8,332.6Z" fill="#ff0000"/>
<path d="M735.4,332.4 L720.4,315.3 L718.3,320.9 L699.5,314.1 L696.1,323.5 L714.9,330.3 L712.8,335.9Z" fill="#ff0000"/>
<path d="M744.8,345.6 L732.0,326.7 L729.3,332.0 L711.4,323.0 L706.9,331.9 L724.7,341.0 L722.0,346.3Z" fill="#ff0000"/>
<path d="M748.7,341.4 L751.4,318.8 L745.8,321.0 L738.3,302.5 L729.1,306.2 L736.6,324.8 L731.0,327.0Z" fill="#ff0000"/>
<path d="M757.5,341.0 L760.2,318.4 L754.6,320.6 L747.1,302.1 L737.9,305.8 L745.4,324.4 L739.8,326.6Z" fill="#ff0000"/>
<path d="M765.9,340.5 L768.6,317.9 L763.0,320.1 L755.5,301.6 L746.3,305.3 L753.8,323.9 L748.2,326.1Z" fill="#ff0000"/>
<path d="M774.4,340.5 L777.1,317.9 L771.5,320.1 L764.0,301.6 L754.8,305.3 L762.3,323.9 L756.7,326.1Z" fill="#ff0000"/>
<path d="M787.7,348.5 L787.2,325.7 L782.0,328.7 L772.0,311.4 L763.4,316.4 L773.4,333.7 L768.2,336.7Z" fill="#ff0000"/>
<path d="M796.7,354.7 L790.4,332.8 L786.1,337.1 L772.0,322.9 L764.9,330.0 L779.1,344.1 L774.8,348.4Z" fill="#ff0000"/>
<path d="M808.3,352.0 L796.5,332.5 L793.5,337.7 L776.2,327.7 L771.2,336.3 L788.5,346.3 L785.5,351.5Z" fill="#ff0000"/>
<path d="M820.3,341.4 L800.3,330.4 L800.3,336.4 L780.3,336.4 L780.3,346.4 L800.3,346.4 L800.3,352.4Z" fill="#ff0000"/>
<path d="M823.8,318.6 L801.9,324.9 L806.2,329.2 L792.0,343.3 L799.1,350.4 L813.2,336.2 L817.5,340.5Z" fill="#ff0000"/>
<path d="M824.6,313.0 L807.5,328.0 L813.1,330.1 L806.3,348.9 L815.7,352.3 L822.5,333.5 L828.1,335.6Z" fill="#ff0000"/>
<path d="M818.6,304.1 L811.3,325.7 L817.2,324.7 L820.6,344.4 L830.5,342.6 L827.0,322.9 L832.9,321.9Z" fill="#ff0000"/>
<path d="M822.1,301.5 L817.0,323.7 L822.8,322.1 L828.3,341.3 L837.9,338.5 L832.4,319.3 L838.2,317.7Z" fill="#ff0000"/>
<path d="M824.9,296.2 L828.5,318.8 L833.3,315.1 L845.6,330.8 L853.5,324.7 L841.1,308.9 L845.9,305.2Z" fill="#ff0000"/>
<path d="M826.6,296.5 L836.7,317.0 L840.1,312.1 L856.5,323.6 L862.3,315.4 L845.9,303.9 L849.3,299.0Z" fill="#ff0000"/>
<path d="M832.7,296.0 L847.1,313.7 L849.3,308.1 L867.9,315.6 L871.6,306.4 L853.1,298.9 L855.3,293.3Z" fill="#ff0000"/>
<path d="M841.3,287.4 L856.6,304.3 L858.6,298.6 L877.5,305.1 L880.7,295.7 L861.8,289.2 L863.8,283.5Z" fill="#ffff00"/>
<path d="M850.3,293.4 L869.2,306.1 L869.8,300.1 L889.7,301.8 L890.6,291.9 L870.6,290.1 L871.2,284.1Z" fill="#ffff00"/>
<path d="M858.4,285.0 L878.4,296.0 L878.4,290.0 L898.4,290.0 L898.4,280.0 L878.4,280.0 L878.4,274.0Z" fill="#ffff00"/>
<path d="M866.7,295.1 L886.7,306.1 L886.7,300.1 L906.7,300.1 L906.7,290.1 L886.7,290.1 L886.7,284.1Z" fill="#ffff00"/>
<path d="M874.2,295.1 L894.2,306.1 L894.2,300.1 L914.2,300.1 L914.2,290.1 L894.2,290.1 L894.2,284.1Z" fill="#ffff00"/>
<path d="M882.6,303.5 L902.6,314.5 L902.6,308.5 L922.6,308.5 L922.6,298.5 L902.6,298.5 L902.6,292.5Z" fill="#ff0000"/>
<path d="M890.6,313.8 L910.6,324.8 L910.6,318.8 L930.6,318.8 L930.6,308.8 L910.6,308.8 L910.6,302.8Z" fill="#ff0000"/>
<path d="M900.0,322.9 L920.0,333.9 L920.0,327.9 L940.0,327.9 L940.0,317.9 L920.0,317.9 L920.0,311.9Z" fill="#ff0000"/>
<path d="M910.3,340.1 L932.9,343.6 L930.8,338.0 L949.6,331.2 L946.2,321.8 L927.4,328.6 L925.3,323.0Z" fill="#ff0000"/>
<path d="M917.2,332.5 L937.2,343.5 L937.2,337.5 L957.2,337.5 L957.2,327.5 L937.2,327.5 L937.2,321.5Z" fill="#ff0000"/>
<path d="M926.4,332.8 L946.4,343.8 L946.4,337.8 L966.4,337.8 L966.4,327.8 L946.4,327.8 L946.4,321.8Z" fill="#ff0000"/>
<path d="M935.3,336.5 L956.9,343.8 L955.9,337.9 L975.6,334.5 L973.8,324.6 L954.1,328.1 L953.1,322.2Z" fill="#ff0000"/>
<path d="M944.2,326.2 L959.2,343.3 L961.3,337.7 L980.1,344.5 L983.5,335.1 L964.7,328.3 L966.8,322.7Z" fill="#ff0000"/>
<path d="M951.8,326.5 L969.6,340.8 L970.6,334.9 L990.3,338.4 L992.1,328.5 L972.4,325.1 L973.4,319.2Z" fill="#ff0000"/>
<path d="M960.0,323.0 L980.0,334.0 L980.0,328.0 L1000.0,328.0 L1000.0,318.0 L980.0,318.0 L980.0,312.0Z" fill="#ff0000"/>
<path d="M969.0,332.7 L989.0,343.7 L989.0,337.7 L1009.0,337.7 L1009.0,327.7 L989.0,327.7 L989.0,321.7Z" fill="#ff0000"/>
<path d="M970.4,317.2 L985.4,334.3 L987.5,328.7 L1006.3,335.5 L1009.7,326.1 L990.9,319.3 L993.0,313.7Z" fill="#ff0000"/>
<path d="M976.1,319.4 L991.1,336.5 L993.2,330.9 L1012.0,337.7 L1015.4,328.3 L996.6,321.5 L998.7,315.9Z" fill="#ff0000"/>
<path d="M1000.1,328.2 L1022.0,321.9 L1017.7,317.6 L1031.9,303.5 L1024.8,296.4 L1010.7,310.6 L1006.4,306.3Z" fill="#ff0000"/>
</g>
<text transform="translate(19.8,266.6) rotate(-90)" font-size="23.3" text-anchor="middle" fill="#000">Wave Height - Metres</text>
<text transform="translate(1059,265.3) rotate(90)" font-size="23" text-anchor="middle" fill="#000">Wind Speed - Knots</text>
<text x="128.8" y="434.7" font-size="16" letter-spacing="0.3" text-anchor="middle" fill="#000">Tuesday</text>
<text x="130.1" y="459" font-size="19.5" letter-spacing="0.7" text-anchor="middle" fill="#808080">6th</text>
<text x="265.4" y="434.7" font-size="16" letter-spacing="0.3" text-anchor="middle" fill="#000">Wednesday</text>
<text x="266.7" y="459" font-size="19.5" letter-spacing="0.7" text-anchor="middle" fill="#808080">7th</text>
<text x="401.9" y="434.7" font-size="16" letter-spacing="0.3" text-anchor="middle" fill="#000">Thursday</text>
<text x="403.2" y="459" font-size="19.5" letter-spacing="0.7" text-anchor="middle" fill="#808080">8th</text>
<text x="538.5" y="434.7" font-size="16" letter-spacing="0.3" text-anchor="middle" fill="#000">Friday</text>
<text x="539.8" y="459" font-size="19.5" letter-spacing="0.7" text-anchor="middle" fill="#808080">9th</text>
<text x="676.7" y="434.7" font-size="16" letter-spacing="0.1" text-anchor="middle" fill="#000" font-weight="bold">Saturday</text>
<text x="676.4" y="459" font-size="19.5" letter-spacing="0.7" text-anchor="middle" fill="#808080">10th</text>
<text x="813.2" y="434.7" font-size="16" letter-spacing="0.1" text-anchor="middle" fill="#000" font-weight="bold">Sunday</text>
<text x="812.9" y="459" font-size="19.5" letter-spacing="0.7" text-anchor="middle" fill="#808080">11th</text>
<text x="948.2" y="434.7" font-size="16" letter-spacing="0.3" text-anchor="middle" fill="#000">Monday</text>
<text x="949.5" y="459" font-size="19.5" letter-spacing="0.7" text-anchor="middle" fill="#808080">12th</text>
<text x="1011.2" y="401" font-size="11" letter-spacing="0.05" text-anchor="end" fill="#a0a0a0">www.seabreeze.com.au</text>
<use href="#ic-pc" x="130.3" y="94.3"/>
<use href="#ic-sun" x="266.8" y="94.3"/>
<use href="#ic-sun" x="403.3" y="94.3"/>
<use href="#ic-sun" x="539.8" y="94.3"/>
<use href="#ic-sun" x="676.3" y="94.3"/>
<use href="#ic-pc" x="812.8" y="94.3"/>
<use href="#ic-rain" x="949.3" y="94.3"/>
</svg>
</body></html>
